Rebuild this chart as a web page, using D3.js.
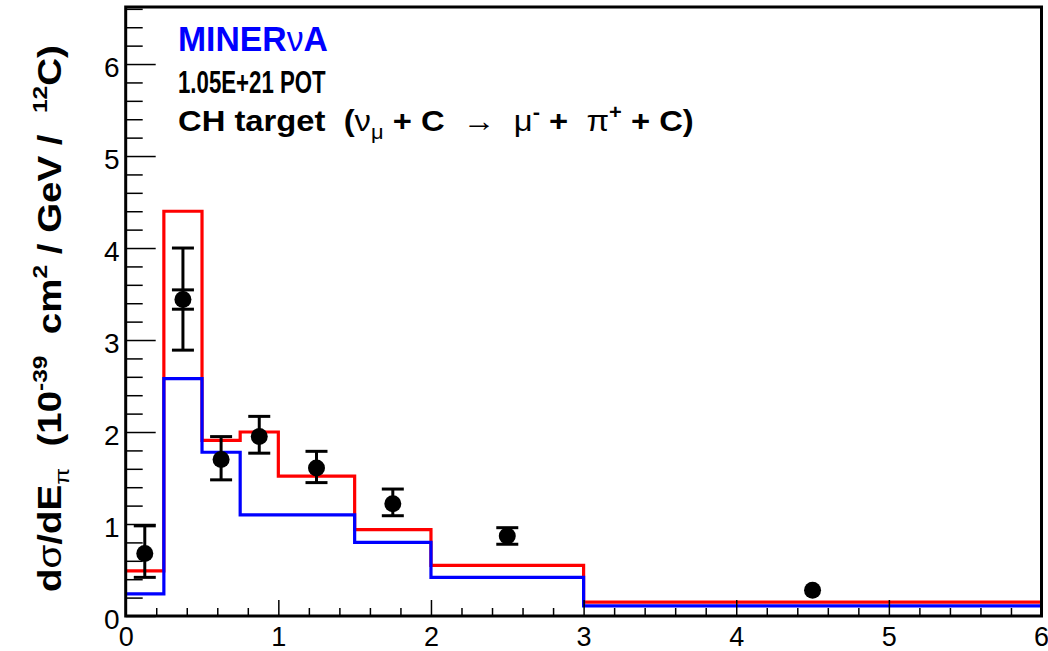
<!DOCTYPE html>
<html>
<head>
<meta charset="utf-8">
<script src="https://cdn.jsdelivr.net/npm/d3@7"></script>
<style>
  body { margin: 0; background: #fff; }
  text { font-family: "Liberation Sans", Arial, Helvetica, sans-serif; white-space: pre; }
</style>
</head>
<body>
<svg width="1048" height="651"></svg>
<script>
// bins in E_pi (GeV)
const binEdges = [0, 0.25, 0.5, 0.75, 1.0, 1.5, 2.0, 3.0, 6.0];
const redModel = [0.49, 4.40, 1.91, 2.00, 1.52, 0.94, 0.55, 0.15];
const blueModel = [0.24, 2.58, 1.78, 1.10, 1.10, 0.80, 0.42, 0.11];

// data points
const dataX = [0.125, 0.375, 0.625, 0.875, 1.25, 1.75, 2.5, 4.5];
const dataY = [0.68, 3.44, 1.70, 1.95, 1.61, 1.22, 0.87, 0.28];
const errUp = [0.30, 0.56, 0.25, 0.22, 0.18, 0.16, 0.09, 0.02];
const errDown = [0.26, 0.55, 0.22, 0.18, 0.16, 0.13, 0.09, 0.02];
const statErr = [0, 0.105, 0, 0, 0, 0, 0, 0];

const xTicks = [0, 1, 2, 3, 4, 5, 6];
const yTicks = [0, 1, 2, 3, 4, 5, 6];

let svg = d3.select("svg");
let padL = 125.7, padR = 1041.5, padT = 7, padB = 616;

let x = d3.scaleLinear().domain([0, 6]).range([padL, padR]);
let y = d3.scaleLinear().domain([0, 6.62]).range([padB, padT]);

// histograms: red first, blue over it
function histPoints(vals) {
  let pts = vals.map((v, i) => [binEdges[i], v]);
  pts.push([binEdges[binEdges.length - 1], vals[vals.length - 1]]);
  return pts;
}
let line = d3.line().x((d) => x(d[0])).y((d) => y(d[1])).curve(d3.curveStepAfter);

svg.append("path")
  .attr("d", line(histPoints(redModel)))
  .attr("fill", "none")
  .attr("stroke", "#ff0000")
  .attr("stroke-width", 3.2);

svg.append("path")
  .attr("d", line(histPoints(blueModel)))
  .attr("fill", "none")
  .attr("stroke", "#0000ff")
  .attr("stroke-width", 3.2);

// axes (ticks inside the frame)
let yMinor = d3.range(0, 6.62, 0.2).filter((v) => Math.abs(v - Math.round(v)) > 1e-6);
let xMinor = d3.range(0, 6.001, 0.2).filter((v) => Math.abs(v - Math.round(v)) > 1e-6);

let gy = svg.append("g").attr("transform", `translate(${padL},0)`);
gy.append("g").call(d3.axisLeft(y).tickValues(yMinor).tickFormat("").tickSize(-17));
gy.append("g").call(d3.axisLeft(y).tickValues(yTicks).tickFormat(d3.format("d")).tickSize(-30).tickPadding(6));

let gx = svg.append("g").attr("transform", `translate(0,${padB})`);
gx.append("g").call(d3.axisBottom(x).tickValues(xMinor).tickFormat("").tickSize(-8));
gx.append("g").call(d3.axisBottom(x).tickValues(xTicks).tickFormat(d3.format("d")).tickSize(-16).tickPadding(11));

svg.selectAll(".domain").remove();
svg.selectAll(".tick line").attr("stroke", "#000").attr("stroke-width", 1.5);
gy.selectAll("text").attr("font-size", 28).attr("fill", "#000").attr("dy", "0.43em")
  .style("font-family", '"Liberation Sans", Arial, sans-serif');
gx.selectAll("text").attr("font-size", 27).attr("fill", "#000")
  .style("font-family", '"Liberation Sans", Arial, sans-serif');
// keep the last label inside the page
gx.selectAll(".tick").filter((d) => d === 6).select("text").attr("text-anchor", "end").attr("x", 7);

// frame
svg.append("rect")
  .attr("x", padL).attr("y", padT)
  .attr("width", padR - padL).attr("height", padB - padT)
  .attr("fill", "none").attr("stroke", "#000").attr("stroke-width", 3);

// data points with error bars
let points = dataX.map((d, i) => ({ x: d, y: dataY[i], up: errUp[i], dn: errDown[i], st: statErr[i] }));
let r = 8.5, cap = 11;
let pg = svg.append("g");
points.forEach((p) => {
  let cx = x(p.x), cy = y(p.y);
  let yu = y(p.y + p.up), yd = y(p.y - p.dn);
  if (cy - yu > 6) {
    pg.append("line").attr("x1", cx).attr("x2", cx).attr("y1", yu).attr("y2", yd)
      .attr("stroke", "#000").attr("stroke-width", 3);
    [yu, yd].forEach((yy) => {
      pg.append("line").attr("x1", cx - cap).attr("x2", cx + cap).attr("y1", yy).attr("y2", yy)
        .attr("stroke", "#000").attr("stroke-width", 3);
    });
  }
  if (p.st > 0) {
    [y(p.y + p.st), y(p.y - p.st)].forEach((yy) => {
      pg.append("line").attr("x1", cx - cap).attr("x2", cx + cap).attr("y1", yy).attr("y2", yy)
        .attr("stroke", "#000").attr("stroke-width", 3);
    });
  }
  pg.append("circle").attr("cx", cx).attr("cy", cy).attr("r", r).attr("fill", "#000");
});

// squeeze a text so its ink spans [x0, x0 + w]
function fitText(t, x0, yb, w) {
  let b = t.node().getBBox();
  let s = w / b.width;
  t.attr("transform", `translate(${x0 - b.x * s},${yb}) scale(${s},1)`);
}

// labels
let t1 = svg.append("text").attr("font-size", 35).attr("font-weight", "bold").attr("fill", "#0000ff");
t1.append("tspan").text("MINER");
t1.append("tspan").attr("font-weight", "normal").text("ν");
t1.append("tspan").text("A");
fitText(t1, 178, 51, 150);

let t2 = svg.append("text").attr("font-size", 32).attr("font-weight", "bold").attr("fill", "#000")
  .text("1.05E+21 POT");
fitText(t2, 178, 93, 148);

let t3 = svg.append("text").attr("font-size", 30).attr("font-weight", "bold").attr("fill", "#000");
t3.append("tspan").text("CH target  (");
t3.append("tspan").attr("font-weight", "normal").text("ν");
t3.append("tspan").attr("font-weight", "normal").attr("font-size", 20).attr("dy", 8).text("μ");
t3.append("tspan").attr("dy", -8).text(" + C  ");
t3.append("tspan").attr("font-weight", "normal").text("→  μ");
t3.append("tspan").attr("font-size", 20).attr("dy", -12).text("-");
t3.append("tspan").attr("dy", 12).text(" +  ");
t3.append("tspan").attr("font-weight", "normal").text("π");
t3.append("tspan").attr("font-size", 20).attr("dy", -12).text("+");
t3.append("tspan").attr("dy", 12).text(" + C)");
fitText(t3, 178, 131, 516);

// y axis title
let yt = svg.append("text").attr("font-size", 33).attr("font-weight", "bold").attr("fill", "#000");
yt.append("tspan").text("d");
yt.append("tspan").attr("font-weight", "normal").text("σ");
yt.append("tspan").text("/dE");
yt.append("tspan").attr("font-weight", "normal").attr("font-size", 21).attr("dy", 8).text("π");
yt.append("tspan").attr("dy", -8).text("  (10");
yt.append("tspan").attr("font-size", 21).attr("dy", -14).text("-39");
yt.append("tspan").attr("dy", 14).text("  cm");
yt.append("tspan").attr("font-size", 21).attr("dy", -14).text("2");
yt.append("tspan").attr("dy", 14).text(" / GeV /  ");
yt.append("tspan").attr("font-size", 21).attr("dy", -14).text("12");
yt.append("tspan").attr("dy", 14).text("C)");
{
  let b = yt.node().getBBox();
  let s = 547 / b.width;
  // ink runs from y=592 (start) up to y=45
  yt.attr("transform", `translate(61,${592 + b.x * s}) rotate(-90) scale(${s},1)`);
}
</script>
</body>
</html>
